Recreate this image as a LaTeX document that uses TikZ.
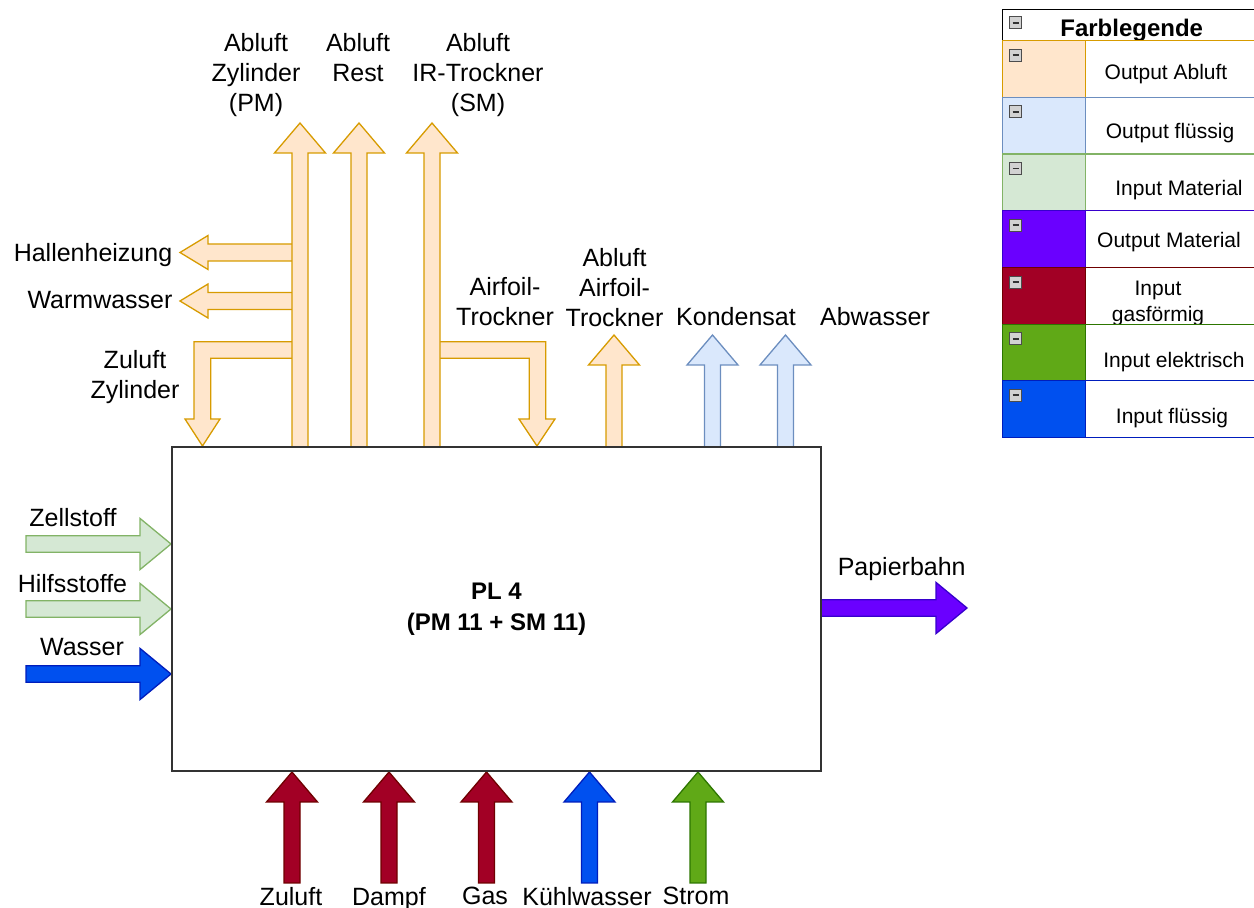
\documentclass[tikz,border=0pt]{standalone}
\usepackage{fontspec}
\setmainfont{Liberation Sans}
\usepackage{tikz}

\definecolor{abluftfill}{HTML}{FFE6CC}
\definecolor{abluftdraw}{HTML}{D79B00}
\definecolor{fluessigfill}{HTML}{DAE8FC}
\definecolor{fluessigdraw}{HTML}{6C8EBF}
\definecolor{materialfill}{HTML}{D5E8D4}
\definecolor{materialdraw}{HTML}{82B366}
\definecolor{papierfill}{HTML}{6A00FF}
\definecolor{papierdraw}{HTML}{3700CC}
\definecolor{gasfill}{HTML}{A20025}
\definecolor{gasdraw}{HTML}{6F0000}
\definecolor{stromfill}{HTML}{60A917}
\definecolor{stromdraw}{HTML}{2D7600}
\definecolor{wasserfill}{HTML}{0050EF}
\definecolor{wasserdraw}{HTML}{001DBC}

\tikzset{
  abluft/.style={fill=abluftfill, draw=abluftdraw},
  fluessig/.style={fill=fluessigfill, draw=fluessigdraw},
  material/.style={fill=materialfill, draw=materialdraw},
  papier/.style={fill=papierfill, draw=papierdraw},
  gas/.style={fill=gasfill, draw=gasdraw},
  strom/.style={fill=stromfill, draw=stromdraw},
  wasser/.style={fill=wasserfill, draw=wasserdraw}
}

\begin{document}
\begin{tikzpicture}[x=0.5pt, y=-0.5pt,
    flow/.style={line width=0.65pt, line join=miter},
    txt/.style={inner sep=0pt, anchor=north, align=center, font=\fontsize{12.5}{15}\selectfont},
    legtxt/.style={inner sep=0pt, anchor=north, align=center, font=\fontsize{10.5}{13}\selectfont},
    mainbox/.style={draw=black!80, line width=0.8pt, minimum width=324.5pt, minimum height=162pt,
      align=center, font=\bfseries\fontsize{12}{15.5}\selectfont},
    icon/.style={fill=gray!35, draw=gray!60!black, line width=0.4pt}]
    \useasboundingbox (0,0) rectangle (1254,908);

    % branches of the exhaust air
    \filldraw[flow, abluft] (300,341.7) -- (194,341.7) -- (194,419) -- (185,419) -- (202.5,446)
        -- (220,419) -- (210.7,419) -- (210.7,358.3) -- (300,358.3) -- cycle;
    \filldraw[flow, abluft] (432,341.7) -- (545.7,341.7) -- (545.7,419) -- (555,419) -- (537,446)
        -- (519,419) -- (529.3,419) -- (529.3,358.3) -- (432,358.3) -- cycle;
    \foreach \y in {252.5, 301}
        \filldraw[flow, abluft] (300,{\y-8.5}) -- (208,{\y-8.5}) -- (208,{\y-17}) -- (180,\y)
            -- (208,{\y+17}) -- (208,{\y+8.5}) -- (300,{\y+8.5}) -- cycle;

    % upward arrows
    \foreach \x/\yb/\yt/\s in {300/447/123/abluft, 359/447/123/abluft, 432/447/123/abluft,
            614/447/335/abluft, 712.5/447/335/fluessig, 785.5/447/335/fluessig,
            292/883/772/gas, 389/883/772/gas, 486.5/883/772/gas, 589.5/883/772/wasser, 698/883/772/strom}
        \filldraw[flow, \s] ({\x-8},\yb) -- ({\x-8},{\yt+30}) -- ({\x-25.5},{\yt+30}) -- (\x,\yt)
            -- ({\x+25.5},{\yt+30}) -- ({\x+8},{\yt+30}) -- ({\x+8},\yb) -- cycle;

    % arrows to the right
    \foreach \y/\xa/\xb/\s in {544/26/171/material, 609/26/171/material, 674/26/171/wasser, 608/821/967/papier}
        \filldraw[flow, \s] (\xa,{\y-8.2}) -- ({\xb-31},{\y-8.2}) -- ({\xb-31},{\y-25.6}) -- (\xb,\y)
            -- ({\xb-31},{\y+25.6}) -- ({\xb-31},{\y+8.2}) -- (\xa,{\y+8.2}) -- cycle;

    \node[mainbox] (pl4) at (496.5,609) {PL 4\\(PM 11 + SM 11)};

    \node[txt] (abzyl) at (256,33.3) {Abluft\\Zylinder\\(PM)};
    \node[txt] (abrest) at (358,33.3) {Abluft\\Rest};
    \node[txt] (abir) at (478,33.3) {Abluft\\IR-Trockner\\(SM)};
    \node[txt] (halle) at (93,243.3) {Hallenheizung};
    \node[txt] (warm) at (100,290.7) {Warmwasser};
    \node[txt] (zuzyl) at (135,350) {Zuluft\\Zylinder};
    \node[txt] (airfoil) at (505,276.7) {Airfoil-\\Trockner};
    \node[txt] (abair) at (614.5,248.3) {Abluft\\Airfoil-\\Trockner};
    \node[txt] (kond) at (736,307.3) {Kondensat};
    \node[txt] (abw) at (875,307.3) {Abwasser};
    \node[txt] (zell) at (73,508) {Zellstoff};
    \node[txt] (hilf) at (72.5,574) {Hilfsstoffe};
    \node[txt] (wass) at (82,638) {Wasser};
    \node[txt] (papier) at (901.7,556.7) {Papierbahn};
    \foreach \x/\t/\n in {291/Zuluft/zu, 389/Dampf/dampf, 485/Gas/gasin, 587/Kühlwasser/kuehl, 696/Strom/stromin}
        \node[txt] (\n) at (\x,887) {\t};

    % legend
    \draw[black, line width=0.6pt, fill=white] (1002.7,9.3) rectangle (1262,40.7);
    \draw[icon] (1009.5,16.7) rectangle +(12,12);
    \draw[black!80, line width=0.9pt] (1012.5,22.7) -- (1018.5,22.7);
    \node[txt, font=\bfseries\fontsize{12}{14}\selectfont] (farb) at (1131.7,18.5) {Farblegende};
    \foreach \i/\s/\tx/\ty/\t/\n in {0/abluft/1166/64/Output Abluft/lega, 1/fluessig/1170/122.7/Output flüssig/legb,
            2/material/1179/180/Input Material/legc, 3/papier/1169/232.3/Output Material/legd,
            4/gas/1158/281/{Input\\gasförmig}/lege, 5/strom/1174/351.7/Input elektrisch/legf,
            6/wasser/1172/408.3/Input flüssig/legg} {
        \pgfmathsetmacro\yt{40.7+56.7*\i}
        \draw[\s, line width=0.6pt, fill=white] (1002.7,\yt) rectangle (1262,{\yt+56.7});
        \filldraw[\s, line width=0.6pt] (1002.7,\yt) rectangle (1085.7,{\yt+56.7});
        \draw[icon] (1009.5,{\yt+8.5}) rectangle +(12,12);
        \draw[black!80, line width=0.9pt] (1012.5,{\yt+14.5}) -- (1018.5,{\yt+14.5});
        \node[legtxt] (\n) at (\tx,\ty) {\t};
    }
\end{tikzpicture}
\end{document}
